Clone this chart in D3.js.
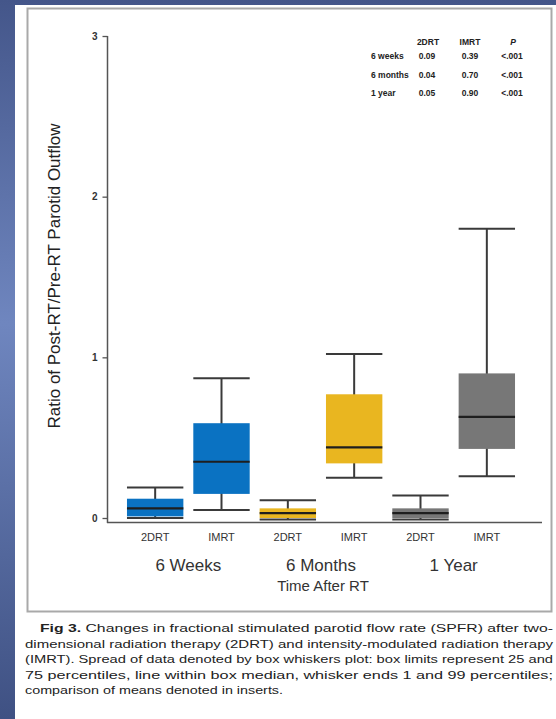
<!DOCTYPE html>
<html>
<head>
<meta charset="utf-8">
<script src="https://cdn.jsdelivr.net/npm/d3@7"></script>
<style>
  html, body { margin: 0; padding: 0; background: #4a5c8e; }
  svg { display: block; }
</style>
</head>
<body>
<svg id="chart" width="556" height="719" font-family="'Liberation Sans', Arial, sans-serif"></svg>
<script>
// ---- data ----
var periods = ["6 Weeks", "6 Months", "1 Year"];
var groups = ["2DRT", "IMRT"];
// per box: [lower whisker, Q1, median, Q3, upper whisker]
var boxes2DRT = [[0.00, 0.01, 0.06, 0.12, 0.19], [-0.01, 0.00, 0.03, 0.06, 0.11], [-0.01, 0.00, 0.03, 0.06, 0.14]];
var boxesIMRT = [[0.05, 0.15, 0.35, 0.59, 0.87], [0.25, 0.34, 0.44, 0.77, 1.02], [0.26, 0.43, 0.63, 0.90, 1.80]];
var periodColors = ["#0a72c2", "#e9b620", "#777777"];
var yTicks = [0, 1, 2, 3];
// inset table of means
var insetHeader = ["2DRT", "IMRT", "P"];
var insetRows = ["6 weeks", "6 months", "1 year"];
var means2DRT = ["0.09", "0.04", "0.05"];
var meansIMRT = ["0.39", "0.70", "0.90"];
var pValues = ["<.001", "<.001", "<.001"];
var caption = [
  "Fig 3. Changes in fractional stimulated parotid flow rate (SPFR) after two-",
  "dimensional radiation therapy (2DRT) and intensity-modulated radiation therapy",
  "(IMRT). Spread of data denoted by box whiskers plot: box limits represent 25 and",
  "75 percentiles, line within box median, whisker ends 1 and 99 percentiles;",
  "comparison of means denoted in inserts."
];

// flat table for drawing
var data = [];
periods.forEach(function(p, i) {
  [boxes2DRT[i], boxesIMRT[i]].forEach(function(b, j) {
    data.push({key: p + "|" + groups[j], period: i, group: groups[j],
      lo: b[0], q1: b[1], med: b[2], q3: b[3], hi: b[4]});
  });
});

var svg = d3.select("#chart");

// background: blue slide gradient, white page, grey panel
var defs = svg.append("defs");
var grad = defs.append("linearGradient").attr("id", "bg").attr("x1", 0).attr("y1", 0).attr("x2", 0).attr("y2", 1);
grad.append("stop").attr("offset", "0%").attr("stop-color", "#44568a");
grad.append("stop").attr("offset", "45%").attr("stop-color", "#6f86bf");
grad.append("stop").attr("offset", "100%").attr("stop-color", "#3f5183");
svg.append("rect").attr("width", 556).attr("height", 719).attr("fill", "url(#bg)");
svg.append("rect").attr("x", 15).attr("y", 5).attr("width", 541).attr("height", 714).attr("fill", "#ffffff");
svg.append("rect").attr("x", 27.5).attr("y", 8.5).attr("width", 524).attr("height", 603)
  .attr("fill", "#ffffff").attr("stroke", "#a9a9a9").attr("stroke-width", 2);

// scales
var y = d3.scaleLinear().domain([0, 3]).range([518, 36]);
var x = d3.scaleBand().domain(data.map(function(d) { return d.key; }))
  .range([122, 520]).paddingInner(0.15).paddingOuter(0.075);

// y axis
var yAxis = svg.append("g").attr("transform", "translate(107.5,0)")
  .call(d3.axisLeft(y).tickValues(yTicks).tickFormat(d3.format("d")).tickSize(5).tickSizeOuter(0));
yAxis.attr("font-family", null);
yAxis.select(".domain").remove();
yAxis.append("line").attr("x1", 0).attr("x2", 0).attr("y1", y(3)).attr("y2", 523)
  .attr("stroke", "#555").attr("stroke-width", 1.5);
yAxis.selectAll(".tick line").attr("stroke", "#555").attr("stroke-width", 1.3);
yAxis.selectAll(".tick text").attr("font-size", 10).attr("font-weight", "bold").attr("fill", "#333").attr("x", -10);

// x axis baseline
svg.append("line").attr("x1", 107).attr("x2", 542).attr("y1", 522.5).attr("y2", 522.5)
  .attr("stroke", "#555").attr("stroke-width", 1.5);

// boxes
var bw = x.bandwidth();
var g = svg.append("g");
var box = g.selectAll("g.box").data(data).enter().append("g").attr("class", "box")
  .attr("transform", function(d) { return "translate(" + x(d.key) + ",0)"; });

box.append("line")
  .attr("x1", bw / 2).attr("x2", bw / 2)
  .attr("y1", function(d) { return y(d.hi); }).attr("y2", function(d) { return y(d.lo); })
  .attr("stroke", "#3a3a3a").attr("stroke-width", 2);
box.append("rect")
  .attr("x", 0).attr("width", bw)
  .attr("y", function(d) { return y(d.q3); })
  .attr("height", function(d) { return y(d.q1) - y(d.q3); })
  .attr("fill", function(d) { return periodColors[d.period]; });
box.append("line")
  .attr("x1", 0).attr("x2", bw)
  .attr("y1", function(d) { return y(d.med); }).attr("y2", function(d) { return y(d.med); })
  .attr("stroke", "#1e1e1e").attr("stroke-width", 2.2);
box.selectAll("line.cap").data(function(d) { return [d.lo, d.hi]; }).enter().append("line")
  .attr("class", "cap")
  .attr("x1", 0).attr("x2", bw)
  .attr("y1", function(v) { return y(v); }).attr("y2", function(v) { return y(v); })
  .attr("stroke", "#3a3a3a").attr("stroke-width", 2);

// category labels
svg.append("g").selectAll("text").data(data).enter().append("text")
  .attr("x", function(d) { return x(d.key) + bw / 2; })
  .attr("y", 541)
  .attr("text-anchor", "middle").attr("font-size", 11).attr("fill", "#333")
  .text(function(d) { return d.group; });

// period labels
svg.append("g").selectAll("text").data(periods).enter().append("text")
  .attr("x", function(p) { return (x(p + "|2DRT") + x(p + "|IMRT") + bw) / 2; })
  .attr("y", 571)
  .attr("text-anchor", "middle").attr("font-size", 17).attr("fill", "#333")
  .text(function(p) { return p; });

svg.append("text").attr("x", 323).attr("y", 591)
  .attr("text-anchor", "middle").attr("font-size", 15).attr("fill", "#333")
  .text("Time After RT");

// y axis title
svg.append("text")
  .attr("transform", "translate(60,276) rotate(-90)")
  .attr("text-anchor", "middle").attr("font-size", 17).attr("fill", "#222")
  .attr("font-family", "'Liberation Sans Narrow', 'Liberation Sans', sans-serif")
  .attr("textLength", 305).attr("lengthAdjust", "spacingAndGlyphs")
  .text("Ratio of Post-RT/Pre-RT Parotid Outflow");

// inset table
var inset = svg.append("g").attr("font-size", 8.5).attr("font-weight", "bold").attr("fill", "#222");
var colX = [428, 470, 513];
inset.selectAll("text.h").data(insetHeader).enter().append("text")
  .attr("x", function(d, i) { return colX[i]; }).attr("y", 45)
  .attr("text-anchor", "middle")
  .attr("font-style", function(d) { return d === "P" ? "italic" : null; })
  .text(function(d) { return d; });
insetRows.forEach(function(r, i) {
  var yy = 59 + i * 18.5;
  inset.append("text").attr("x", 371).attr("y", yy).text(r);
  inset.append("text").attr("x", 427).attr("y", yy).attr("text-anchor", "middle").text(means2DRT[i]);
  inset.append("text").attr("x", 470).attr("y", yy).attr("text-anchor", "middle").text(meansIMRT[i]);
  inset.append("text").attr("x", 512).attr("y", yy).attr("text-anchor", "middle").text(pValues[i]);
});

// caption (justified lines, last one runs short)
var cap = svg.append("g").attr("fill", "#222");
caption.forEach(function(line, i) {
  var xs = i === 0 ? 40 : 25;
  var last = i === caption.length - 1;
  var t = cap.append("text").attr("x", xs).attr("y", 632 + i * 15.5)
    .attr("font-size", 11.2)
    .attr("textLength", last ? 258 : 553 - xs).attr("lengthAdjust", "spacingAndGlyphs");
  if (i === 0) {
    t.append("tspan").attr("font-weight", "bold").text("Fig 3.");
    t.append("tspan").text(line.slice(6));
  } else {
    t.text(line);
  }
});
</script>
</body>
</html>
